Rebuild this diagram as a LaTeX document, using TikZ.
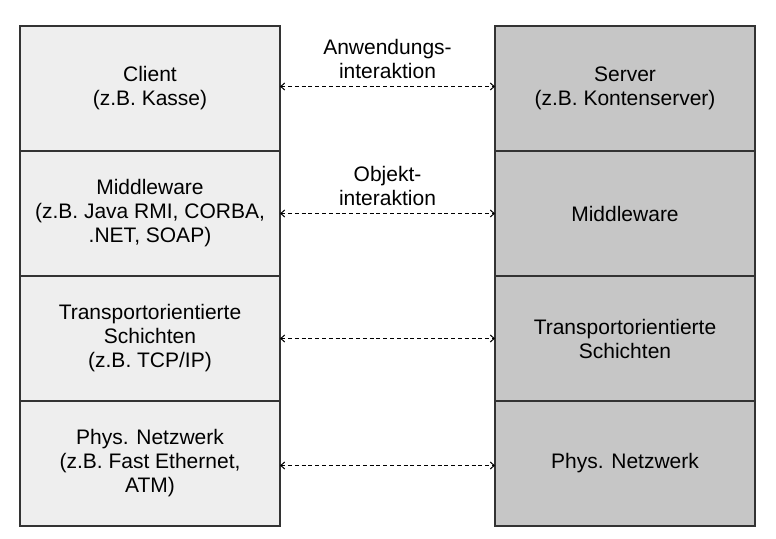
\documentclass[tikz,border=0pt]{standalone}
\usepackage{fontspec}
\setmainfont{Liberation Sans}
\usetikzlibrary{positioning, arrows.meta}
\definecolor{clientgray}{HTML}{EEEEEE}
\definecolor{servergray}{HTML}{C6C6C6}
\definecolor{framegray}{HTML}{333333}

\begin{document}
\begin{tikzpicture} [x=0.5pt, y=-0.5pt,
                    layer/.style={draw=framegray, line width=0.6pt, minimum width=130pt, minimum height=62.5pt,
                                  inner sep=0pt, outer sep=0pt, align=center, font=\fontsize{10.5}{12}\selectfont},
                    link/.style={{Straight Barb[length=2pt,width=3.5pt]}-{Straight Barb[length=2pt,width=3.5pt]},
                                 line width=0.5pt, dash pattern=on 2pt off 1.4pt},
                    linklabel/.style={above=3.5pt, align=center, inner sep=0pt, font=\fontsize{10.5}{12}\selectfont}]
                    \useasboundingbox (0, 0) rectangle (776, 539);
                    \coordinate (cl) at (150, 88.5);
                    \coordinate (sv) at (625, 88.5);
                    % left stack
                    \node[layer, fill=clientgray] (c1) at (cl) {Client\\(z.B. Kasse)};
                    \node[layer, fill=clientgray, below=0pt of c1] (c2) {Middleware\\(z.B. Java RMI, CORBA,\\.NET, SOAP)};
                    \node[layer, fill=clientgray, below=0pt of c2] (c3) {Transportorientierte\\Schichten\\(z.B. TCP/IP)};
                    \node[layer, fill=clientgray, below=0pt of c3] (c4) {Phys. Netzwerk\\(z.B. Fast Ethernet,\\ATM)};
                    % right stack
                    \node[layer, fill=servergray] (s1) at (sv) {Server\\(z.B. Kontenserver)};
                    \node[layer, fill=servergray, below=0pt of s1] (s2) {Middleware};
                    \node[layer, fill=servergray, below=0pt of s2] (s3) {Transportorientierte\\Schichten};
                    \node[layer, fill=servergray, below=0pt of s3] (s4) {Phys. Netzwerk};
                    % connections
                    \draw[link] ([yshift=1pt]c1.east) -- ([yshift=1pt]s1.east -| s1.west) node[linklabel, midway] (l1) {Anwendungs-\\interaktion};
                    \draw[link] (c2.east) -- (s2.west) node[linklabel, midway] (l2) {Objekt-\\interaktion};
                    \draw[link] (c3.east) -- (s3.west);
                    \draw[link] ([yshift=-1pt]c4.east) -- ([yshift=-1pt]s4.west);
                \end{tikzpicture}
\end{document}
